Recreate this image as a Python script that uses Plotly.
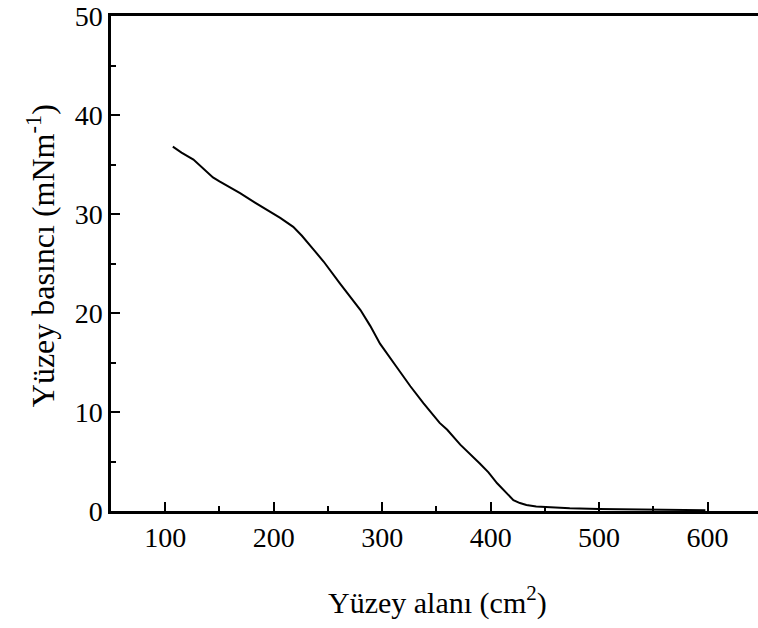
import plotly.graph_objects as go

# Data
area_cm2 = [107, 115, 126, 135, 144, 150, 158, 169, 182, 194, 206, 218, 226, 236, 246,
            261, 280, 289, 298, 313, 326, 338, 353, 360, 372, 390, 398, 406, 414, 421,
            427, 433, 442, 452, 473, 500, 530, 560, 598]
pressure = [36.8, 36.2, 35.5, 34.6, 33.7, 33.3, 32.8, 32.1, 31.2, 30.4, 29.6, 28.7, 27.8,
            26.5, 25.2, 23.0, 20.3, 18.7, 16.9, 14.6, 12.6, 10.9, 8.9, 8.2, 6.7, 4.8, 3.9,
            2.8, 1.9, 1.1, 0.8, 0.6, 0.45, 0.37, 0.27, 0.2, 0.15, 0.1, 0.08]

x_ticks = [100, 200, 300, 400, 500, 600]
y_ticks = [0, 10, 20, 30, 40, 50]
x_title = "Yüzey alanı (cm<sup>2</sup>)"
y_title = "Yüzey basıncı (mNm<sup>-1</sup>)"

FONT = "Liberation Serif, Times New Roman, serif"

fig = go.Figure()
fig.add_trace(go.Scatter(x=area_cm2, y=pressure, mode="lines",
                         line=dict(color="black", width=2),
                         showlegend=False, hoverinfo="skip"))

fig.update_layout(
    width=758, height=628,
    margin=dict(l=111, r=0, t=16, b=117),
    paper_bgcolor="white", plot_bgcolor="white",
    font=dict(family=FONT, size=28, color="black"),
    xaxis=dict(
        range=[50, 646.5], tickmode="array", tickvals=x_ticks,
        ticktext=[str(v) for v in x_ticks], automargin=False,
        ticks="inside", ticklen=9, tickwidth=2, tickcolor="black",
        minor=dict(ticks="inside", ticklen=5, tickwidth=2, tickcolor="black",
                   tickmode="array", tickvals=[150, 250, 350, 450, 550]),
        showline=True, linecolor="black", linewidth=2.5, mirror=True,
        showgrid=False, zeroline=False,
        tickfont=dict(family=FONT, size=28, color="black"),
    ),
    yaxis=dict(
        range=[0, 50], tickmode="array", tickvals=y_ticks,
        ticktext=[str(v) for v in y_ticks], automargin=False,
        ticks="inside", ticklen=9, tickwidth=2, tickcolor="black",
        minor=dict(ticks="inside", ticklen=5, tickwidth=2, tickcolor="black",
                   tickmode="array", tickvals=[5, 15, 25, 35, 45]),
        showline=True, linecolor="black", linewidth=2.5, mirror=False,
        showgrid=False, zeroline=False,
        tickfont=dict(family=FONT, size=28, color="black"),
    ),
    annotations=[
        dict(text=x_title, xref="paper", yref="paper", x=0.5046, y=-0.18,
             xanchor="center", yanchor="middle", showarrow=False,
             font=dict(family=FONT, size=30, color="black")),
        dict(text=y_title, xref="paper", yref="paper", x=-0.108, y=0.515,
             xanchor="center", yanchor="middle", showarrow=False, textangle=-90,
             font=dict(family=FONT, size=32, color="black")),
    ],
)

fig.write_html("out.html",
               config={"displayModeBar": False},
               post_script="document.body.style.margin='0';"
                           "document.body.style.overflow='hidden';")
